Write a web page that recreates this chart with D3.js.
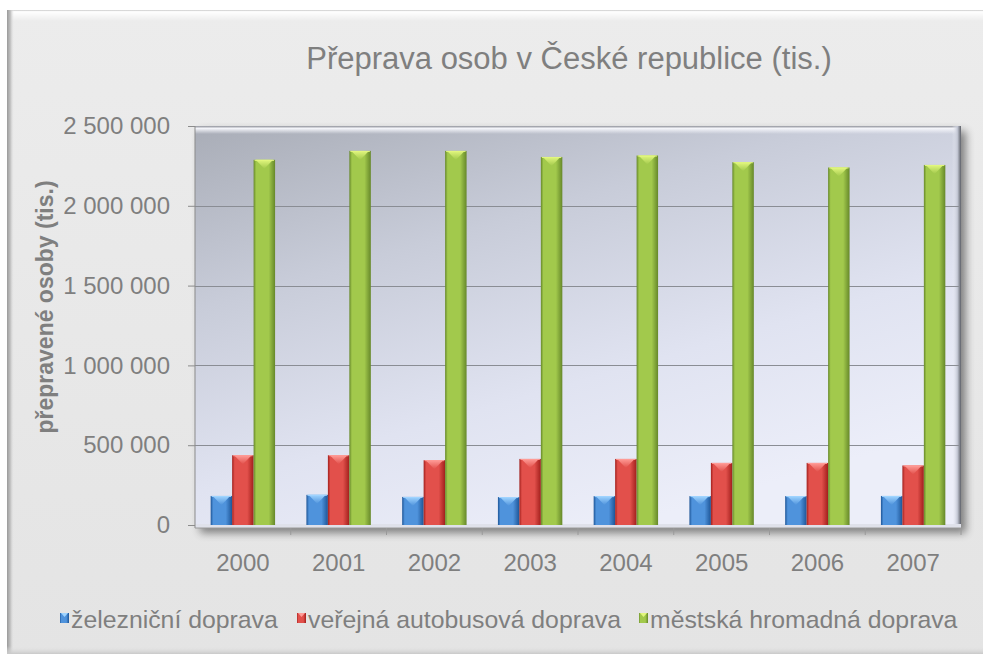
<!DOCTYPE html>
<html lang="cs">
<head>
<meta charset="utf-8">
<script src="https://cdn.jsdelivr.net/npm/d3@7"></script>
<style>
  html, body { margin: 0; padding: 0; background: #ffffff; }
  svg { display: block; font-family: "Liberation Sans", Arial, sans-serif; }
</style>
</head>
<body>
<svg id="chart" width="983" height="656"></svg>
<script>
// Přeprava osob v ČR (tis. osob), 2000–2007
const years = ["2000", "2001", "2002", "2003", "2004", "2005", "2006", "2007"];
const seriesNames = ["železniční doprava", "veřejná autobusová doprava", "městská hromadná doprava"];
const railValues = [182000, 189000, 176000, 175000, 181000, 181000, 181000, 182000];
const busValues = [437000, 437000, 406000, 414000, 414000, 389000, 389000, 373000];
const cityValues = [2288000, 2344000, 2344000, 2306000, 2315000, 2273000, 2240000, 2256000];
const yTicks = [0, 500000, 1000000, 1500000, 2000000, 2500000];

const palette = [
  { dark: "#1d5597", mid: "#4f93dc", top: "#9fd4ff" },
  { dark: "#a11f1c", mid: "#e2504b", top: "#ff9c97" },
  { dark: "#66882a", mid: "#a2c94c", top: "#e2f77e" }
];

const rows = years.map((y, i) => ({ year: y, values: [railValues[i], busValues[i], cityValues[i]] }));

const svg = d3.select("#chart");
const defs = svg.append("defs");
const W = 983, H = 656;
const plot = { left: 195, right: 961, top: 126, bottom: 525 };

// ---- gradients & filters ----
const bgGrad = defs.append("linearGradient").attr("id", "bgGrad").attr("x1", 0).attr("y1", 0).attr("x2", 0).attr("y2", 1);
bgGrad.append("stop").attr("offset", 0).attr("stop-color", "#ececec");
bgGrad.append("stop").attr("offset", 1).attr("stop-color", "#e4e4e4");

const topHi = defs.append("linearGradient").attr("id", "topHi").attr("x1", 0).attr("y1", 0).attr("x2", 0).attr("y2", 1);
topHi.append("stop").attr("offset", 0).attr("stop-color", "#c8c8c8");
topHi.append("stop").attr("offset", 0.15).attr("stop-color", "#ffffff");
topHi.append("stop").attr("offset", 1).attr("stop-color", "#ffffff").attr("stop-opacity", 0);

const leftEdge = defs.append("linearGradient").attr("id", "leftEdge").attr("x1", 0).attr("y1", 0).attr("x2", 1).attr("y2", 0);
leftEdge.append("stop").attr("offset", 0).attr("stop-color", "#9a9a9a");
leftEdge.append("stop").attr("offset", 0.5).attr("stop-color", "#c4c4c4");
leftEdge.append("stop").attr("offset", 1).attr("stop-color", "#e6e6e6").attr("stop-opacity", 0);

const botEdge = defs.append("linearGradient").attr("id", "botEdge").attr("x1", 0).attr("y1", 0).attr("x2", 0).attr("y2", 1);
botEdge.append("stop").attr("offset", 0).attr("stop-color", "#e6e6e6").attr("stop-opacity", 0);
botEdge.append("stop").attr("offset", 1).attr("stop-color", "#c9c9c9");

const wallGrad = defs.append("linearGradient").attr("id", "wallGrad").attr("x1", 0).attr("y1", 0).attr("x2", 0.55).attr("y2", 1);
wallGrad.append("stop").attr("offset", 0).attr("stop-color", "#a9adb7");
wallGrad.append("stop").attr("offset", 0.35).attr("stop-color", "#c8ccd9");
wallGrad.append("stop").attr("offset", 0.7).attr("stop-color", "#e0e3f1");
wallGrad.append("stop").attr("offset", 1).attr("stop-color", "#eceef9");

const wallTop = defs.append("linearGradient").attr("id", "wallTop").attr("x1", 0).attr("y1", 0).attr("x2", 0).attr("y2", 1);
wallTop.append("stop").attr("offset", 0).attr("stop-color", "#8e9199");
wallTop.append("stop").attr("offset", 0.3).attr("stop-color", "#f4f5fa");
wallTop.append("stop").attr("offset", 1).attr("stop-color", "#f4f5fa").attr("stop-opacity", 0);

const wallRight = defs.append("linearGradient").attr("id", "wallRight").attr("x1", 0).attr("y1", 0).attr("x2", 1).attr("y2", 0);
wallRight.append("stop").attr("offset", 0).attr("stop-color", "#eef0f8").attr("stop-opacity", 0);
wallRight.append("stop").attr("offset", 0.6).attr("stop-color", "#c3c7d4");
wallRight.append("stop").attr("offset", 1).attr("stop-color", "#5d6068");

const shadow = defs.append("filter").attr("id", "shadow").attr("x", "-5%").attr("y", "-5%").attr("width", "115%").attr("height", "115%");
shadow.append("feGaussianBlur").attr("in", "SourceAlpha").attr("stdDeviation", 4);
shadow.append("feOffset").attr("dx", 5).attr("dy", 5).attr("result", "off");
shadow.append("feComponentTransfer").append("feFuncA").attr("type", "linear").attr("slope", 0.45);
const sm = shadow.append("feMerge");
sm.append("feMergeNode");
sm.append("feMergeNode").attr("in", "SourceGraphic");

palette.forEach((p, i) => {
  const g = defs.append("linearGradient").attr("id", "bar" + i).attr("x1", 0).attr("y1", 0).attr("x2", 1).attr("y2", 0);
  g.append("stop").attr("offset", 0).attr("stop-color", p.dark);
  g.append("stop").attr("offset", 0.12).attr("stop-color", p.mid);
  g.append("stop").attr("offset", 0.7).attr("stop-color", p.mid);
  g.append("stop").attr("offset", 1).attr("stop-color", p.dark);
  const t = defs.append("linearGradient").attr("id", "cap" + i).attr("x1", 0).attr("y1", 0).attr("x2", 0).attr("y2", 1);
  t.append("stop").attr("offset", 0).attr("stop-color", p.top);
  t.append("stop").attr("offset", 1).attr("stop-color", p.mid);
});

// ---- chart background frame ----
svg.append("rect").attr("x", 7).attr("y", 10).attr("width", W - 7).attr("height", 644).attr("fill", "url(#bgGrad)");
svg.append("rect").attr("x", 7).attr("y", 10).attr("width", W - 7).attr("height", 11).attr("fill", "url(#topHi)");
svg.append("rect").attr("x", 7).attr("y", 10).attr("width", 7).attr("height", 644).attr("fill", "url(#leftEdge)");
svg.append("rect").attr("x", 7).attr("y", 646).attr("width", W - 7).attr("height", 8).attr("fill", "url(#botEdge)");

// ---- scales ----
const y = d3.scaleLinear().domain([0, 2500000]).range([plot.bottom, plot.top]);
const x0 = d3.scaleBand().domain(years).range([plot.left, plot.right]).padding(0);
const x1 = d3.scaleBand().domain(d3.range(3)).range([0, x0.bandwidth()]).paddingInner(0).paddingOuter(0.73);

// ---- plot wall ----
const wall = svg.append("g");
wall.append("rect")
  .attr("x", plot.left).attr("y", plot.top)
  .attr("width", plot.right - plot.left).attr("height", plot.bottom - plot.top + 3)
  .attr("fill", "url(#wallGrad)").attr("filter", "url(#shadow)");
wall.append("rect")
  .attr("x", plot.left).attr("y", plot.top)
  .attr("width", plot.right - plot.left).attr("height", 8)
  .attr("fill", "url(#wallTop)");
wall.append("rect")
  .attr("x", plot.right - 9).attr("y", plot.top)
  .attr("width", 9).attr("height", plot.bottom - plot.top + 3)
  .attr("fill", "url(#wallRight)");
wall.append("rect")
  .attr("x", plot.left).attr("y", plot.bottom - 1)
  .attr("width", plot.right - plot.left).attr("height", 4)
  .attr("fill", "#dfe1ea");

// gridlines
svg.append("g").selectAll("line").data(yTicks.filter(d => d > 0 && d < 2500000)).join("line")
  .attr("x1", plot.left).attr("x2", plot.right - 2)
  .attr("y1", d => Math.round(y(d)) + 0.5).attr("y2", d => Math.round(y(d)) + 0.5)
  .attr("stroke", "#8a8d94").attr("stroke-width", 1);

// ---- bars ----
const bevel = 9;
const groups = svg.append("g").selectAll("g").data(rows).join("g")
  .attr("transform", d => `translate(${x0(d.year)},0)`);

groups.selectAll("g.bar").data(d => d.values.map((v, i) => ({ v, i }))).join("g")
  .attr("class", "bar")
  .each(function (d) {
    const g = d3.select(this);
    const bx = x1(d.i), bw = x1.bandwidth();
    const top = y(d.v);
    g.append("rect")
      .attr("x", bx).attr("y", top)
      .attr("width", bw).attr("height", plot.bottom - top)
      .attr("fill", `url(#bar${d.i})`);
    g.append("path")
      .attr("d", `M${bx + 2},${top}L${bx + bw - 2},${top}L${bx + bw / 2},${top + bevel}Z`)
      .attr("fill", `url(#cap${d.i})`);
    g.append("line")
      .attr("x1", bx + 1).attr("x2", bx + bw - 1)
      .attr("y1", top + 0.5).attr("y2", top + 0.5)
      .attr("stroke", palette[d.i].top).attr("stroke-width", 1);
  });

// ---- axes ----
const fmt = d3.formatLocale({ decimal: ",", thousands: "\u00a0", grouping: [3], currency: ["", " Kč"] }).format(",d");

const yAxis = svg.append("g")
  .attr("transform", `translate(${plot.left},0)`)
  .call(d3.axisLeft(y).tickValues(yTicks).tickFormat(fmt).tickSize(7).tickPadding(18));
yAxis.select(".domain").attr("stroke", "#8c8c8c").attr("d", `M0,${plot.top}V${plot.bottom + 3}`);
yAxis.selectAll(".tick line").attr("stroke", "#8c8c8c");
yAxis.selectAll(".tick text")
  .attr("fill", "#7f7f7f").attr("font-size", 24)
  .attr("font-family", "'Liberation Sans', Arial, sans-serif");

const xAxis = svg.append("g")
  .attr("transform", `translate(0,${plot.bottom + 3})`)
  .call(d3.axisBottom(x0).tickSize(0).tickPadding(26));
xAxis.select(".domain").attr("stroke", "#9a9a9a").attr("d", `M${plot.left},0H${plot.right}`);
xAxis.selectAll(".tick text")
  .attr("fill", "#7f7f7f").attr("font-size", 24)
  .attr("font-family", "'Liberation Sans', Arial, sans-serif");

// category separators along the floor
svg.append("g").selectAll("line").data(years.slice(1).concat(["end"])).join("line")
  .attr("x1", (d, i) => i < years.length - 1 ? x0(d) : plot.right)
  .attr("x2", (d, i) => i < years.length - 1 ? x0(d) : plot.right)
  .attr("y1", plot.bottom + 3).attr("y2", plot.bottom + 10)
  .attr("stroke", "#9a9a9a");

// ---- titles ----
svg.append("text")
  .attr("x", 569).attr("y", 69)
  .attr("text-anchor", "middle")
  .attr("fill", "#7f7f7f").attr("font-size", 31)
  .text("Přeprava osob v České republice (tis.)");

svg.append("text")
  .attr("transform", "translate(53,307) rotate(-90)")
  .attr("text-anchor", "middle")
  .attr("fill", "#7f7f7f").attr("font-size", 23).attr("font-weight", "bold")
  .text("přepravené osoby (tis.)");

// ---- legend ----
const legendX = [60, 297, 639];
const legend = svg.append("g").selectAll("g").data(seriesNames).join("g")
  .attr("transform", (d, i) => `translate(${legendX[i]},628)`);
legend.append("rect")
  .attr("x", 0).attr("y", -15).attr("width", 9).attr("height", 10)
  .attr("fill", (d, i) => `url(#bar${i})`);
legend.append("path")
  .attr("d", "M1,-15L8,-15L4.5,-11Z")
  .attr("fill", (d, i) => palette[i].top);
legend.append("text")
  .attr("x", 11).attr("y", 0)
  .attr("fill", "#7f7f7f").attr("font-size", 24.8)
  .text(d => d);
</script>
</body>
</html>
